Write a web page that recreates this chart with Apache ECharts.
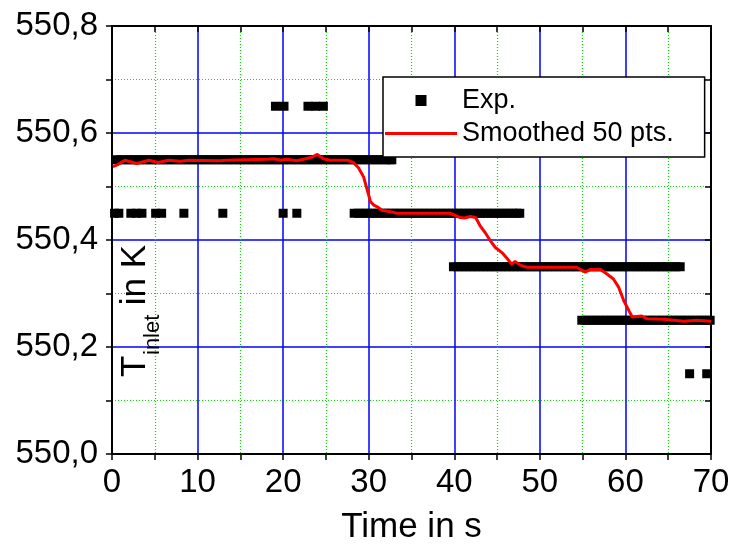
<!DOCTYPE html>
<html><head><meta charset="utf-8">
<script src="https://cdn.jsdelivr.net/npm/echarts@6/dist/echarts.min.js"></script>
<style>html,body{margin:0;padding:0;background:#fff}#c{width:734px;height:550px}</style>
</head><body><div id="c"></div>
<script>
// x tick labels / y tick labels
var xTicks = [0, 10, 20, 30, 40, 50, 60, 70];
var yTicks = [550.0, 550.2, 550.4, 550.6, 550.8];

// Experimental points (time in s) grouped by measured temperature level
var exp65 = [19.1, 20.1, 22.9, 23.8, 24.7];
var exp55 = [0.5,1,1.5,2,2.5,3,3.5,4,4.5,5,5.5,6,6.5,7,7.5,8,8.5,9,9.5,10,10.5,11,11.5,12,12.5,13,13.5,14,14.5,15,15.5,16,16.5,17,17.5,18,18.5,19,19.5,20,20.5,21,21.5,22,22.5,23,23.5,24,24.5,25,25.5,26,26.5,27,27.5,28,28.5,29,29.5,30,30.5,31,31.5,32,32.5,32.7];
var exp45 = [0.3,0.8,2.2,2.85,3.5,5.1,5.8,8.4,12.95,20,21.6,28.3,28.8,29.3,29.8,30.3,30.8,31.3,31.8,32.3,32.8,33.3,33.8,34.3,34.8,35.3,35.8,36.3,36.8,37.3,37.8,38.3,38.8,39.3,39.8,40.3,40.8,41.3,41.8,42.3,42.8,43.3,43.8,44.3,44.8,45.3,45.8,46.3,46.8,47.3,47.65];
var exp35 = [39.9,40.4,40.9,41.4,41.9,42.4,42.9,43.4,43.9,44.4,44.9,45.4,45.9,46.4,46.9,47.4,47.9,48.4,48.9,49.4,49.9,50.4,50.9,51.4,51.9,52.4,52.9,53.4,53.9,54.4,54.9,55.4,55.9,56.4,56.9,57.4,57.9,58.4,58.9,59.4,59.9,60.4,60.9,61.4,61.9,62.4,62.9,63.4,63.9,64.4,64.9,65.4,65.9,66.4];
var exp25 = [54.9,55.4,55.9,56.4,56.9,57.4,57.9,58.4,58.9,59.4,59.9,60.4,60.9,61.4,61.9,62.4,62.9,63.4,63.9,64.4,64.9,65.4,65.9,66.4,66.9,67.4,67.9,68.4,68.9,69.4,69.9];
var exp15 = [67.5, 69.5];
var expLevels = [550.65, 550.55, 550.45, 550.35, 550.25, 550.15];

// Smoothed curve (50 pts)
var smoothT = [0.1,0.7,1.5,2.9,4.3,5.4,6.6,8.0,9.0,12.6,13.4,18.1,18.9,19.7,20.4,21.6,22.4,23.4,24.0,24.7,25.5,27.5,28.2,28.8,29.4,29.8,30.2,30.6,31.0,31.6,32.1,32.5,33.3,36.0,39.5,40.7,41.2,41.9,42.5,43.0,43.6,44.2,44.8,45.6,46.2,46.7,47.1,47.7,48.5,54.3,55.3,55.9,57.1,57.8,58.6,59.2,59.8,60.4,60.8,61.9,62.5,64.5,66.8,68.4,70.0];
var smoothV = [550.537,550.541,550.549,550.543,550.549,550.545,550.549,550.547,550.549,550.548,550.549,550.551,550.552,550.549,550.551,550.548,550.551,550.555,550.560,550.552,550.549,550.549,550.545,550.535,550.518,550.495,550.472,550.465,550.462,550.455,550.454,550.453,550.450,550.450,550.450,550.442,550.441,550.444,550.442,550.427,550.414,550.399,550.386,550.376,550.365,550.355,550.360,550.353,550.349,550.349,550.340,550.345,550.345,550.337,550.327,550.312,550.287,550.268,550.256,550.258,550.253,550.252,550.248,550.250,550.248];

var groups = [exp65, exp55, exp45, exp35, exp25, exp15];
var expData = [];
groups.forEach(function (g, i) { g.forEach(function (t) { expData.push([t, expLevels[i]]); }); });
var smoothData = smoothT.map(function (t, i) { return [t, smoothV[i]]; });

var FONT = '"Liberation Sans", Arial, sans-serif';
var chart = echarts.init(document.getElementById('c'), null, {renderer: 'canvas'});
function axisLine() { return {show: true, onZero: false, lineStyle: {color: '#000', width: 2}}; }
function tickStyle() { return {color: '#000', width: 1.5}; }
var majorGrid = {show: true, lineStyle: {color: '#0000ff', width: 1.5}};
var minorGrid = {show: true, lineStyle: {color: '#00e000', width: 1.2, type: [1, 2]}};
chart.setOption({
  animation: false,
  backgroundColor: '#fff',
  grid: {left: 112, right: 23, top: 26, bottom: 94, containLabel: false},
  legend: {
    orient: 'vertical', left: 383, top: 77,
    padding: [7, 31, 7, 2], itemGap: 0, itemWidth: 72, itemHeight: 11,
    symbolKeepAspect: true,
    backgroundColor: '#fff', borderColor: '#000', borderWidth: 1.5, borderRadius: 0,
    textStyle: {fontFamily: FONT, fontSize: 27, color: '#000', lineHeight: 33},
    data: [
      {name: 'Exp.', icon: 'path://M0,0L10,0L10,10L0,10Z', itemStyle: {color: '#000', opacity: 1}},
      {name: 'Smoothed 50 pts.', icon: 'path://M0,0L72,0L72,3L0,3Z', itemStyle: {color: '#ff0000'}}
    ], z: 10
  },
  xAxis: [{
    type: 'value', min: xTicks[0], max: xTicks[xTicks.length - 1], interval: 10, position: 'bottom',
    axisLine: axisLine(),
    axisTick: {show: true, inside: false, length: 6, lineStyle: tickStyle()},
    minorTick: {show: true, splitNumber: 2, length: 6, lineStyle: tickStyle()},
    splitLine: majorGrid, minorSplitLine: minorGrid,
    axisLabel: {fontFamily: FONT, fontSize: 33, color: '#000', margin: 12},
    name: 'Time in s', nameLocation: 'middle', nameGap: 56,
    nameTextStyle: {fontFamily: FONT, fontSize: 35, color: '#000'}
  }, {
    type: 'value', min: xTicks[0], max: xTicks[xTicks.length - 1], interval: 10, position: 'top',
    axisLine: axisLine(),
    axisTick: {show: true, inside: true, length: 6, lineStyle: tickStyle()},
    minorTick: {show: true, splitNumber: 2, length: 6, lineStyle: tickStyle()},
    splitLine: {show: false}, minorSplitLine: {show: false}, axisLabel: {show: false}
  }],
  yAxis: [{
    type: 'value', min: yTicks[0], max: yTicks[yTicks.length - 1], interval: 0.2, position: 'left',
    axisLine: axisLine(),
    axisTick: {show: true, inside: false, length: 6, lineStyle: tickStyle()},
    minorTick: {show: true, splitNumber: 2, length: 6, lineStyle: tickStyle()},
    splitLine: majorGrid, minorSplitLine: minorGrid,
    axisLabel: {fontFamily: FONT, fontSize: 33, color: '#000', margin: 14,
      formatter: function (v) { return v.toFixed(1).replace('.', ','); }}
  }, {
    type: 'value', min: yTicks[0], max: yTicks[yTicks.length - 1], interval: 0.2, position: 'right',
    axisLine: axisLine(),
    axisTick: {show: true, inside: true, length: 6, lineStyle: tickStyle()},
    minorTick: {show: true, splitNumber: 2, length: 6, lineStyle: tickStyle()},
    splitLine: {show: false}, minorSplitLine: {show: false}, axisLabel: {show: false}
  }],
  graphic: [
    {type: 'text', x: 135, y: 377, rotation: Math.PI / 2, z: 5,
      style: {text: 'T', fontFamily: FONT, fontSize: 35, fill: '#000', align: 'left', verticalAlign: 'middle'}},
    {type: 'text', x: 153, y: 355, rotation: Math.PI / 2, z: 5,
      style: {text: 'inlet', fontFamily: FONT, fontSize: 22, fill: '#000', align: 'left', verticalAlign: 'middle'}},
    {type: 'text', x: 135, y: 315, rotation: Math.PI / 2, z: 5,
      style: {text: ' in K', fontFamily: FONT, fontSize: 35, fill: '#000', align: 'left', verticalAlign: 'middle'}}
  ],
  series: [{
    name: 'Exp.', type: 'scatter', xAxisIndex: 0, yAxisIndex: 0,
    symbol: 'rect', symbolSize: 9,
    itemStyle: {color: '#000', opacity: 1},
    data: expData, z: 2
  }, {
    name: 'Smoothed 50 pts.', type: 'line', xAxisIndex: 0, yAxisIndex: 0,
    showSymbol: false, symbol: 'none', lineStyle: {color: '#ff0000', width: 3}, itemStyle: {color: '#ff0000'},
    data: smoothData, z: 3
  }]
});
</script>
</body></html>
